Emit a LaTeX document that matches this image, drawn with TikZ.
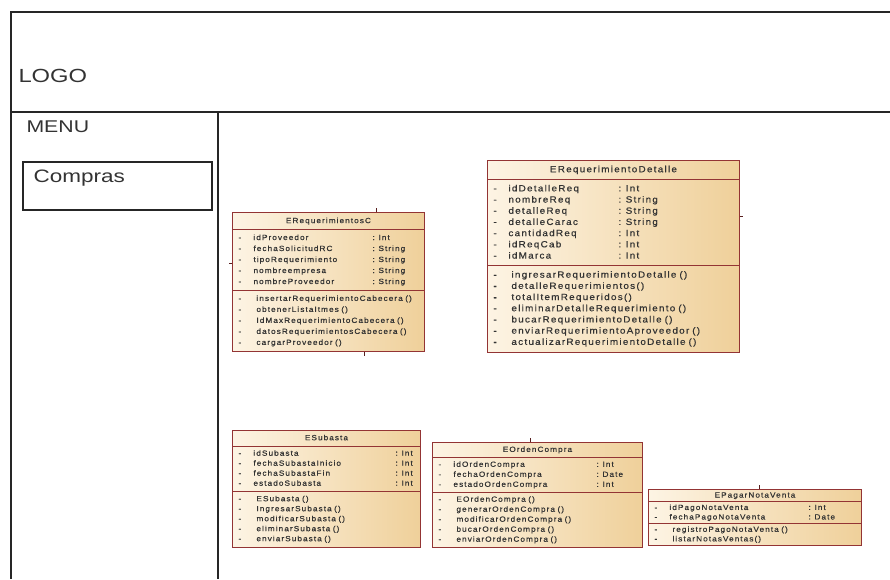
\documentclass[tikz,border=0pt]{standalone}
\usepackage{fontspec}
\setmainfont[FakeStretch=1.25]{Liberation Sans}
\newfontfamily\umlfont[FakeStretch=1.1,LetterSpace=14,FakeBold=0.5]{Liberation Sans}
\usetikzlibrary{shapes.multipart}
\definecolor{classLine}{HTML}{933434}
\definecolor{classLight}{HTML}{FDF4E4}
\definecolor{classDark}{HTML}{EFD09A}
\definecolor{classText}{HTML}{333333}
\newcommand\attr[2]{-&#1&: #2\\}
\newcommand\meth[1]{\textbf{-}&#1\\}
\newcommand\ctitle[1]{\hfill\strut#1\hfill\null}
\tikzset{
  frame/.style={line width=1.3pt, black!85},
  umlclass/.style n args={4}{rectangle split, rectangle split parts=3,
    draw=classLine, line width=0.9pt, left color=classLight, right color=classDark,
    text=classText, inner xsep=6pt, inner ysep=#4, text width=#1, align=left,
    anchor=north west, font=\umlfont\fontsize{#2}{#3}\selectfont},
  stub/.style={classLine!60!black, line width=1pt},
}
\begin{document}
\begin{tikzpicture}[x=1pt,y=-1pt]
\useasboundingbox (0,0) rectangle (890,579);
% page frame
\draw[frame] (10,12) -- (890,12);
\draw[frame] (10,112) -- (890,112);
\draw[frame] (11,12) -- (11,579);
\draw[frame] (218,112) -- (218,579);
\draw[line width=1.1pt, black!85] (23,162) rectangle (212,210);
\node[anchor=west, text=black!80, font=\fontsize{19}{22}\selectfont] (logo) at (15,76) {LOGO};
\node[anchor=west, text=black!80, font=\fontsize{17}{20}\selectfont] (menu) at (23,127) {MENU};
\node[anchor=west, text=black!80, font=\fontsize{18}{21}\selectfont] (compras) at (30,178) {Compras};

% clases
\node[umlclass={180pt}{7.5}{11}{2.5pt}] (reqCab) at (232,212) {\ctitle{ERequerimientosC}
  \nodepart{two}\begin{tabular}{@{}p{15pt}@{}p{119pt}@{}l@{}}
  \attr{idProveedor}{Int}
  \attr{fechaSolicitudRC}{String}
  \attr{tipoRequerimiento}{String}
  \attr{nombreempresa}{String}
  \attr{nombreProveedor}{String}
  \end{tabular}
  \nodepart{three}\begin{tabular}{@{}p{18pt}@{}l@{}}
  \meth{insertarRequerimientoCabecera ()}
  \meth{obtenerListaItmes ()}
  \meth{IdMaxRequerimientoCabecera ()}
  \meth{datosRequerimientosCabecera ()}
  \meth{cargarProveedor ()}
  \end{tabular}};

\node[umlclass={240pt}{9}{11.2}{3.5pt}] (reqDet) at (487,160) {\ctitle{ERequerimientoDetalle}
  \nodepart{two}\begin{tabular}{@{}p{15pt}@{}p{110pt}@{}l@{}}
  \attr{idDetalleReq}{Int}
  \attr{nombreReq}{String}
  \attr{detalleReq}{String}
  \attr{detalleCarac}{String}
  \attr{cantidadReq}{Int}
  \attr{idReqCab}{Int}
  \attr{idMarca}{Int}
  \end{tabular}
  \nodepart{three}\begin{tabular}{@{}p{18pt}@{}l@{}}
  \meth{ingresarRequerimientoDetalle ()}
  \meth{detalleRequerimientos()}
  \meth{totalItemRequeridos()}
  \meth{eliminarDetalleRequerimiento ()}
  \meth{bucarRequerimientoDetalle ()}
  \meth{enviarRequerimientoAproveedor ()}
  \meth{actualizarRequerimientoDetalle ()}
  \end{tabular}};

\node[umlclass={176pt}{7.5}{10}{2.3pt}] (subasta) at (232,430) {\ctitle{ESubasta}
  \nodepart{two}\begin{tabular}{@{}p{15pt}@{}p{142pt}@{}l@{}}
  \attr{idSubasta}{Int}
  \attr{fechaSubastaInicio}{Int}
  \attr{fechaSubastaFin}{Int}
  \attr{estadoSubasta}{Int}
  \end{tabular}
  \nodepart{three}\begin{tabular}{@{}p{18pt}@{}l@{}}
  \meth{ESubasta ()}
  \meth{IngresarSubasta ()}
  \meth{modificarSubasta ()}
  \meth{eliminarSubasta ()}
  \meth{enviarSubasta ()}
  \end{tabular}};

\node[umlclass={198pt}{7.5}{10}{2pt}] (orden) at (432,442) {\ctitle{EOrdenCompra}
  \nodepart{two}\begin{tabular}{@{}p{15pt}@{}p{143pt}@{}l@{}}
  \attr{idOrdenCompra}{Int}
  \attr{fechaOrdenCompra}{Date}
  \attr{estadoOrdenCompra}{Int}
  \end{tabular}
  \nodepart{three}\begin{tabular}{@{}p{18pt}@{}l@{}}
  \meth{EOrdenCompra ()}
  \meth{generarOrdenCompra ()}
  \meth{modificarOrdenCompra ()}
  \meth{bucarOrdenCompra ()}
  \meth{enviarOrdenCompra ()}
  \end{tabular}};

\node[umlclass={201pt}{7.5}{9.5}{1pt}] (pago) at (648,489) {\ctitle{EPagarNotaVenta}
  \nodepart{two}\begin{tabular}{@{}p{15pt}@{}p{139pt}@{}l@{}}
  \attr{idPagoNotaVenta}{Int}
  \attr{fechaPagoNotaVenta}{Date}
  \end{tabular}
  \nodepart{three}\begin{tabular}{@{}p{18pt}@{}l@{}}
  \meth{registroPagoNotaVenta ()}
  \meth{listarNotasVentas()}
  \end{tabular}};

% extremos de asociaciones
\draw[stub] ([xshift=48pt]reqCab.north) -- ++(0,-4);
\draw[stub] ([yshift=18pt]reqCab.west) -- ++(-3,0);
\draw[stub] ([xshift=36pt]reqCab.south) -- ++(0,4);
\draw[stub] ([yshift=40pt]reqDet.east) -- ++(3,0);
\draw[stub] ([xshift=-7pt]orden.north) -- ++(0,-4);
\draw[stub] ([xshift=5pt]pago.north) -- ++(0,-4);
\end{tikzpicture}
\end{document}
